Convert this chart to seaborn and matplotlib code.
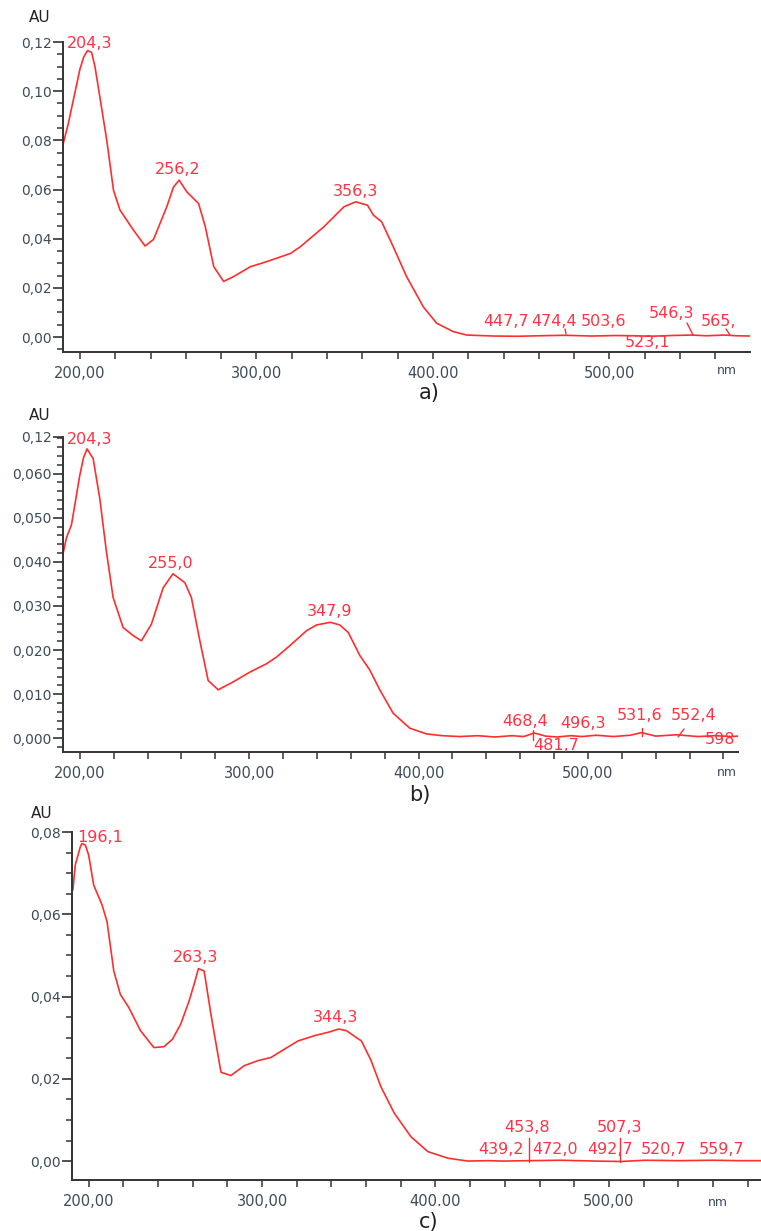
import matplotlib
matplotlib.use("Agg")
import matplotlib.pyplot as plt
import seaborn as sns
import pandas as pd
from matplotlib.lines import Line2D
from matplotlib.ticker import FixedLocator, MultipleLocator

# ---------------- data ----------------
wl_a = [190.5, 193.4, 196.2, 200, 202.2, 204.3, 206.6, 208.5, 210.4, 215.2, 219, 222.7, 230.3,
        236.9, 241.7, 249.2, 253.0, 256.2, 260.6, 267.2, 271, 275.8, 281.4, 287.1, 296.6, 306,
        319.3, 325, 338.3, 349.6, 356.3, 362.9, 366.2, 370.9, 377.5, 385.1, 394.5, 402.1,
        411.5, 419.1, 434.2, 447.7, 460, 474.4, 490, 503.6, 515, 523.1, 535, 546.3, 555, 565,
        572, 580]
abs_a = [0.0786, 0.0868, 0.0962, 0.109, 0.1140, 0.1165, 0.1158, 0.1100, 0.1016, 0.080, 0.0597,
         0.0516, 0.0435, 0.037, 0.0397, 0.053, 0.0610, 0.0638, 0.059, 0.0543, 0.0449, 0.0286,
         0.0226, 0.0246, 0.0286, 0.0307, 0.034, 0.0368, 0.0449, 0.053, 0.055, 0.0536, 0.0496,
         0.0469, 0.0367, 0.0245, 0.0123, 0.0056, 0.0022, 0.0008, 0.0004, 0.0003, 0.0005,
         0.0007, 0.0004, 0.0006, 0.0005, 0.0003, 0.0006, 0.0008, 0.0005, 0.0008, 0.0005, 0.0004]

wl_b = [190.2, 192.1, 195.1, 200, 202.2, 204.3, 207.9, 211.8, 215.7, 219.7, 225.6, 231.5, 236.4,
        242.3, 249.2, 255.0, 262, 265.9, 270.9, 275.8, 281.7, 290.6, 300.4, 310.2, 316.1, 324,
        333.9, 339.8, 347.9, 353.5, 358.5, 365.3, 371.2, 377.1, 385, 394.8, 404.7, 414, 424.3,
        435, 445, 455, 462, 468.4, 475, 481.7, 490, 496.3, 505, 515, 525, 531.6, 540, 552.4,
        565, 575, 585, 588.5]
abs_b = [0.042, 0.0454, 0.0484, 0.0596, 0.0636, 0.0656, 0.0634, 0.0544, 0.0424, 0.0319, 0.0251,
         0.0233, 0.0221, 0.0259, 0.0341, 0.0373, 0.0353, 0.0319, 0.0221, 0.0131, 0.011, 0.0128,
         0.015, 0.0169, 0.0184, 0.021, 0.0244, 0.0257, 0.0263, 0.0257, 0.024, 0.0188, 0.0155,
         0.011, 0.0057, 0.0023, 0.001, 0.0006, 0.0004, 0.0006, 0.0003, 0.0006, 0.0004, 0.0012,
         0.0005, 0.0003, 0.0006, 0.0004, 0.0007, 0.0004, 0.0007, 0.0013, 0.0005, 0.0008,
         0.0004, 0.0006, 0.0004, 0.0005]

wl_c = [190.9, 192.3, 195.2, 196.1, 198.1, 200, 202.9, 207.7, 210.6, 214.5, 218.3, 223.2, 229.9,
        237.6, 243.4, 248.3, 253.1, 257.9, 261.5, 263.3, 266.6, 270.5, 276.3, 282, 289.8, 297.5,
        305.2, 312.9, 320.7, 330.3, 338, 344.3, 348.6, 357.3, 362.8, 368.6, 376.3, 385.9, 395.6,
        407.2, 418.7, 430, 439.2, 454, 472, 492.7, 507, 520.7, 540, 559.7, 575, 588]
abs_c = [0.0659, 0.072, 0.0764, 0.0772, 0.0768, 0.0744, 0.0671, 0.0623, 0.0582, 0.0462, 0.0405,
         0.0373, 0.0317, 0.0276, 0.0278, 0.0296, 0.0333, 0.0389, 0.0440, 0.0468, 0.0462, 0.0357,
         0.0216, 0.0208, 0.0232, 0.0244, 0.0252, 0.0272, 0.0292, 0.0305, 0.0313, 0.0321, 0.0317,
         0.0292, 0.0245, 0.018, 0.0116, 0.0059, 0.0023, 0.0007, 0.0, 0.0001, 0.0, 0.0001,
         0.0002, 0.0, -0.0001, 0.0002, 0.0001, 0.0002, 0.0001, 0.0001]

yticks_a = [0.00, 0.02, 0.04, 0.06, 0.08, 0.10, 0.12]
ylabels_a = ["0,00", "0,02", "0,04", "0,06", "0,08", "0,10", "0,12"]
yticks_b = [0.000, 0.010, 0.020, 0.030, 0.040, 0.050, 0.060, 0.0683]
ylabels_b = ["0,000", "0,010", "0,020", "0,030", "0,040", "0,050", "0,060", "0,12"]
yticks_c = [0.00, 0.02, 0.04, 0.06, 0.08]
ylabels_c = ["0,00", "0,02", "0,04", "0,06", "0,08"]
xticks = [200, 300, 400, 500]
xlabels_a = ["200,00", "300,00", "400.00", "500,00"]
xlabels_b = ["200,00", "300,00", "400,00", "500,00"]
xlabels_c = ["200,00", "300,00", "400.00", "500,00"]

peaks_a = ["204,3", "256,2", "356,3", "447,7", "474,4", "503,6", "546,3", "565,", "523,1"]
peaks_b = ["204,3", "255,0", "347,9", "468,4", "496,3", "531,6", "552,4", "481,7", "598"]
peaks_c = ["196,1", "263,3", "344,3", "453,8", "507,3", "439,2", "472,0", "492,7", "520,7", "559,7"]
panel_names = ["a)", "b)", "c)"]

# ---------------- style ----------------
sns.set_style("ticks")
plt.rcParams['font.family'] = ['DejaVu Sans']
W, H = 761, 1231
fig = plt.figure(figsize=(W / 100, H / 100), dpi=100)

RED = "#ff2e2e"
TXTRED = "#ff3344"
AXC = "#333333"
TICKC = "#3d4b5a"


def px_axes(left, top, right, bottom):
    return fig.add_axes([left / W, 1 - bottom / H, (right - left) / W, (bottom - top) / H])


def ftext(x, y, s, **kw):
    fig.text(x / W, 1 - y / H, s, **kw)


def fline(x0, y0, x1, y1, color=RED, lw=1.0):
    fig.add_artist(Line2D([x0 / W, x1 / W], [1 - y0 / H, 1 - y1 / H],
                          transform=fig.transFigure, color=color, lw=lw))


panels = [
    dict(box=(63, 42, 750, 352), xlim=(190.4, 579.6), ylim=(-0.0061, 0.12),
         wl=wl_a, ab=abs_a, yt=yticks_a, yl=ylabels_a, xl=xlabels_a, ymin=0.005,
         nm=(727, 370), name=(429, 393), au=(40, 18)),
    dict(box=(63, 437, 738, 752), xlim=(190.1, 588.6), ylim=(-0.0031, 0.0683),
         wl=wl_b, ab=abs_b, yt=yticks_b, yl=ylabels_b, xl=xlabels_b, ymin=0.002,
         nm=(727, 773), name=(420, 795), au=(40, 415)),
    dict(box=(72, 832, 761, 1180), xlim=(190.4, 587.7), ylim=(-0.0046, 0.08),
         wl=wl_c, ab=abs_c, yt=yticks_c, yl=ylabels_c, xl=xlabels_c, ymin=0.005,
         nm=(718, 1202), name=(429, 1222), au=(42, 813)),
]

for p in panels:
    ax = px_axes(*p["box"])
    df = pd.DataFrame({"nm": p["wl"], "AU": p["ab"]})
    sns.lineplot(data=df, x="nm", y="AU", ax=ax, color=RED, lw=1.2,
                 estimator=None, sort=False)
    ax.set_xlim(*p["xlim"])
    ax.set_ylim(*p["ylim"])
    ax.set_xlabel("")
    ax.set_ylabel("")
    for s in ["top", "right"]:
        ax.spines[s].set_visible(False)
    for s in ["left", "bottom"]:
        ax.spines[s].set_color(AXC)
        ax.spines[s].set_linewidth(1.4)
    ax.yaxis.set_major_locator(FixedLocator(p["yt"]))
    ax.set_yticklabels(p["yl"])
    ax.yaxis.set_minor_locator(MultipleLocator(p["ymin"]))
    ax.xaxis.set_major_locator(FixedLocator(xticks))
    ax.set_xticklabels(p["xl"])
    ax.xaxis.set_minor_locator(MultipleLocator(20))
    ax.tick_params(axis="y", which="major", length=7, width=1.2, color=AXC,
                   labelsize=10, labelcolor=TICKC, pad=1)
    ax.tick_params(axis="y", which="minor", length=4, width=1.1, color=AXC)
    ax.tick_params(axis="x", which="both", length=5, width=1.1, color=AXC,
                   labelsize=10.5, labelcolor=TICKC, pad=5)
    ax.patch.set_alpha(0)
    ftext(*p["nm"], "nm", ha="center", va="center", fontsize=9, color=TICKC)
    ftext(*p["au"], "AU", ha="center", va="center", fontsize=11, color="#222222")

for p, nm in zip(panels, panel_names):
    ftext(*p["name"], nm, ha="center", va="center", fontsize=15, color="#222222")

# peak annotations (centre positions in reference pixels)
pos_a = [(90, 43), (178, 169), (355, 191), (506, 322), (554, 322), (603, 322), (672, 313),
         (719, 322), (648, 342)]
pos_b = [(90, 439), (171, 563), (330, 612), (525, 722), (583, 724), (640, 715), (694, 715),
         (556, 745), (720, 739)]
pos_c = [(100, 838), (196, 957), (336, 1017), (527, 1128), (620, 1128), (501, 1149),
         (555, 1149), (610, 1149), (664, 1149), (722, 1149)]
for labs, poss in [(peaks_a, pos_a), (peaks_b, pos_b), (peaks_c, pos_c)]:
    for s, (x, y) in zip(labs, poss):
        ftext(x, y, s, ha="center", va="center", fontsize=11.5, color=TXTRED)

# small leader marks
fline(687, 323, 693, 335)
fline(726, 329, 730, 335)
fline(565, 329, 566, 334)
fline(533, 730, 533, 740)
fline(642, 728, 642, 736)
fline(678, 737, 684, 729)
fline(529, 1138, 529, 1162)
fline(620, 1138, 620, 1162)

fig.savefig("out.png", dpi=100)
